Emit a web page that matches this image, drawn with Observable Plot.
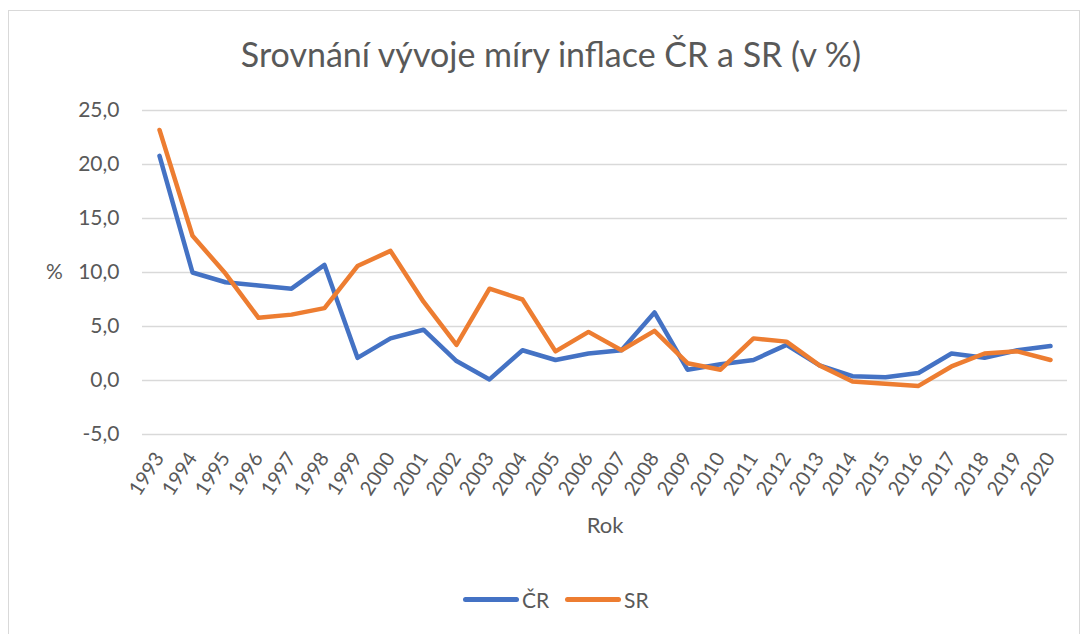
<!DOCTYPE html>
<html>
<head>
<meta charset="utf-8">
<script src="https://cdn.jsdelivr.net/npm/d3@7"></script>
<script src="https://cdn.jsdelivr.net/npm/@observablehq/plot@0.6"></script>
<style>
  html, body { margin: 0; padding: 0; background: #fff; width: 1085px; height: 634px; overflow: hidden; }
  body { font-family: Lato, sans-serif; color: #595959; position: relative; }
  #frame { position: absolute; left: 8px; top: 10px; width: 1072px; height: 640px; border: 1px solid #d9d9d9; box-sizing: border-box; }
  #title { position: absolute; left: 0; width: 1102px; top: 33px; text-align: center; font-size: 34px; color: #595959; white-space: nowrap; }
  #chart { position: absolute; left: 0; top: 90px; }
  #ylab { position: absolute; left: 46px; top: 258px; font-size: 21px; color: #595959; }
  #legend { position: absolute; top: 587px; left: 0; width: 1085px; font-size: 21px; color: #595959; }
  .item { position: absolute; top: 0; display: flex; align-items: center; }
  .sw { display: inline-block; width: 56px; height: 5px; border-radius: 3px; margin-right: 3px; }
</style>
</head>
<body>
<div id="frame"></div>
<div id="title">Srovnání vývoje míry inflace ČR a SR (v %)</div>
<div id="ylab">%</div>
<div id="chart"></div>
<div id="legend"></div>
<script>
const years = ["1993","1994","1995","1996","1997","1998","1999","2000","2001","2002","2003","2004","2005","2006","2007","2008","2009","2010","2011","2012","2013","2014","2015","2016","2017","2018","2019","2020"];
const cr = [20.8, 10.0, 9.1, 8.8, 8.5, 10.7, 2.1, 3.9, 4.7, 1.8, 0.1, 2.8, 1.9, 2.5, 2.8, 6.3, 1.0, 1.5, 1.9, 3.3, 1.4, 0.4, 0.3, 0.7, 2.5, 2.1, 2.8, 3.2];
const sr = [23.2, 13.4, 9.9, 5.8, 6.1, 6.7, 10.6, 12.0, 7.3, 3.3, 8.5, 7.5, 2.7, 4.5, 2.8, 4.6, 1.6, 1.0, 3.9, 3.6, 1.4, -0.1, -0.3, -0.5, 1.3, 2.5, 2.7, 1.9];
const seriesNames = ["ČR", "SR"];
const seriesColors = ["#4472C4", "#ED7D31"];
const yTicks = [-5, 0, 5, 10, 15, 20, 25];

const data = [];
years.forEach((y, i) => {
  data.push({year: y, value: cr[i], series: seriesNames[0]});
  data.push({year: y, value: sr[i], series: seriesNames[1]});
});

const fmt = d => d.toFixed(1).replace(".", ",");

const chart = Plot.plot({
  width: 1085,
  height: 470,
  marginLeft: 142,
  marginRight: 18,
  marginTop: 20,
  marginBottom: 126,
  style: { fontFamily: "Lato, sans-serif", fontSize: "21px", color: "#595959", background: "transparent" },
  x: { type: "point", domain: years, padding: 0.5, label: null },
  y: { domain: [-5, 25], ticks: yTicks, label: null },
  color: { domain: seriesNames, range: seriesColors },
  marks: [
    Plot.gridY(yTicks, { stroke: "#d9d9d9", strokeOpacity: 1, strokeWidth: 1.5 }),
    Plot.axisY(yTicks, { tickSize: 0, tickPadding: 23, tickFormat: fmt, fill: "#595959", fontSize: 21, label: null }),
    Plot.axisX({ tickSize: 0, tickPadding: 20, tickRotate: -57, fill: "#595959", fontSize: 20, label: null }),
    Plot.text(["Rok"], { frameAnchor: "bottom", dy: 98, fill: "#595959", fontSize: 22 }),
    Plot.line(data, { x: "year", y: "value", z: "series", stroke: "series", strokeWidth: 4.5, strokeLinejoin: "round", strokeLinecap: "round" })
  ]
});
document.getElementById("chart").appendChild(chart);

const legend = document.getElementById("legend");
const lefts = [463, 565];
seriesNames.forEach((n, i) => {
  const d = document.createElement("div");
  d.className = "item";
  d.style.left = lefts[i] + "px";
  d.innerHTML = `<span class="sw" style="background:${seriesColors[i]}"></span><span>${n}</span>`;
  legend.appendChild(d);
});
</script>
</body>
</html>
